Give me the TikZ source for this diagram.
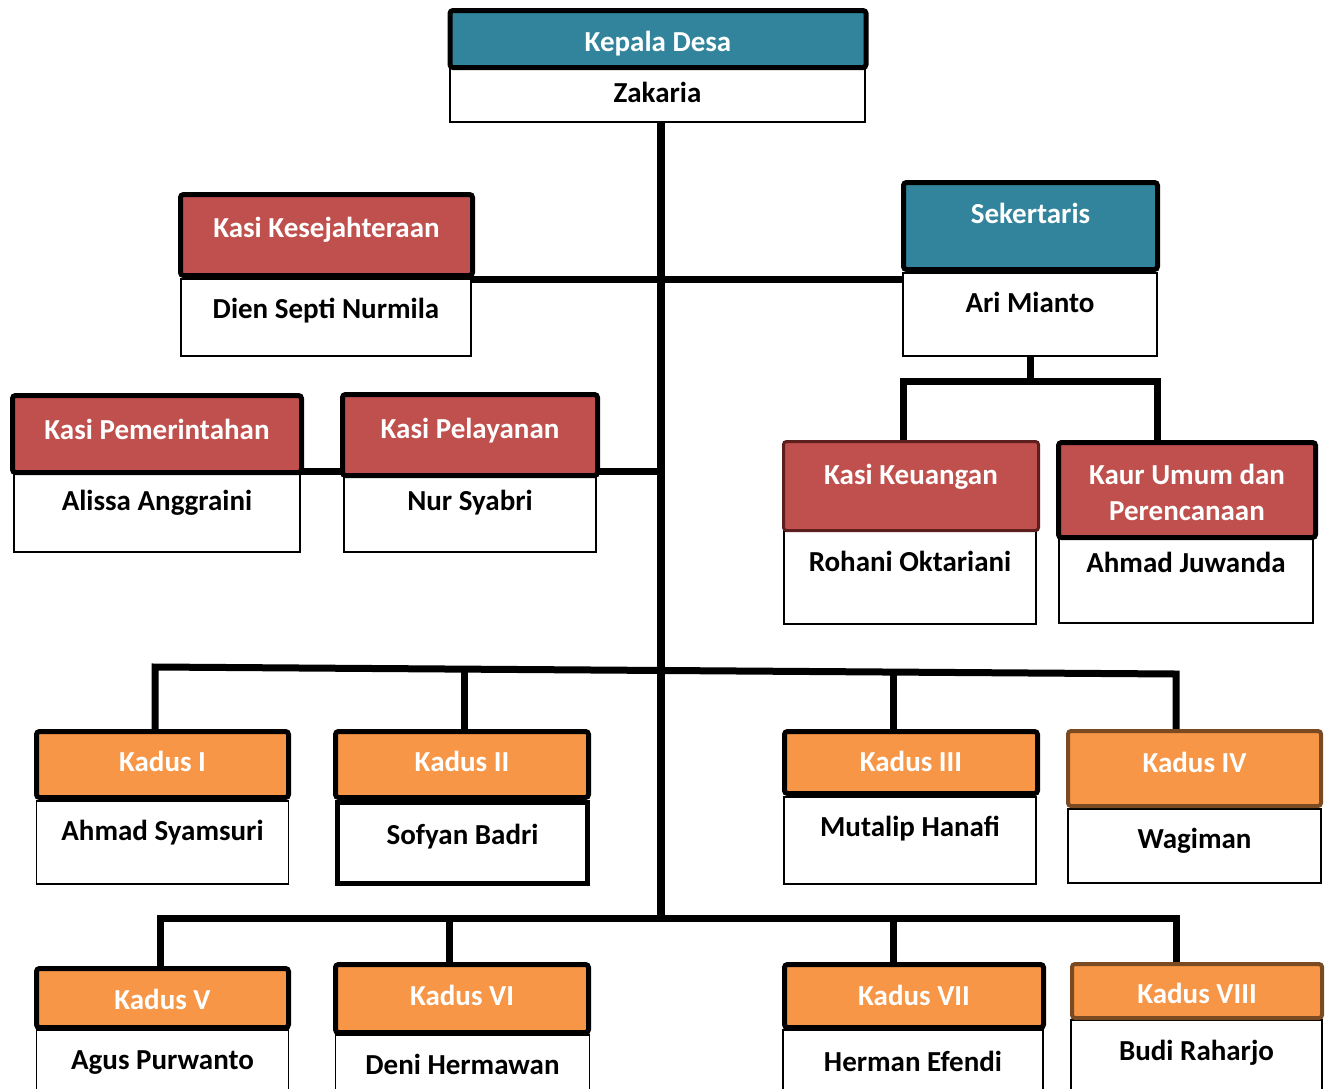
\documentclass[tikz,border=0pt]{standalone}
\usepackage{fontspec}
\setmainfont{Carlito}
\usetikzlibrary{backgrounds}
\definecolor{desa-teal}{HTML}{31849B}
\definecolor{kasi-red}{HTML}{C0504D}
\definecolor{kadus-orange}{HTML}{F79646}
\definecolor{kadus-brown}{HTML}{7A4A23}
\definecolor{keu-darkred}{HTML}{5C1F1D}

\begin{document}
\begin{tikzpicture}[
    x=1pt, y=-1pt,
    txt/.style={font=\fontsize{29}{36}\selectfont\bfseries, inner sep=0pt, outer sep=0pt, text height=24pt, text depth=6pt, align=center},
    head/.style={txt, rectangle, rounded corners=3pt, draw=black, line width=5pt, text=white, minimum width=252pt, minimum height=66pt},
    person/.style={txt, rectangle, draw=black, line width=1.8pt, fill=white, text=black, minimum width=252pt, minimum height=83pt},
    wire/.style={draw=black, line width=7pt, line cap=rect}
]
    \useasboundingbox (0,0) rectangle (1325,1088);

    % names
    \node[person, minimum width=415pt, minimum height=57pt] (zakaria) at (657.5,93.5) {Zakaria};
    \node[person, minimum width=290pt, minimum height=77pt, text depth=23pt] (dien) at (326,317.5) {Dien Septi Nurmila};
    \node[person, minimum width=254pt, text depth=29pt] (ari) at (1030,314.5) {Ari Mianto};
    \node[person, minimum width=286pt, minimum height=81pt, text depth=27pt] (alissa) at (157,511.5) {Alissa Anggraini};
    \node[person, minimum height=81pt, text depth=27pt] (nur) at (470,511.5) {Nur Syabri};
    \node[person, minimum height=93pt, text depth=37pt] (rohani) at (910,577.5) {Rohani Oktariani};
    \node[person, minimum width=254pt, minimum height=90pt, text depth=36pt] (juwanda) at (1186,578) {Ahmad Juwanda};
    \node[person, text depth=29pt] (syamsuri) at (162.5,842.5) {Ahmad Syamsuri};
    \node[person, line width=5pt, minimum width=250pt, minimum height=81pt, text depth=22pt] (sofyan) at (462.5,843) {Sofyan Badri};
    \node[person, minimum height=87pt, text depth=33pt] (mutalip) at (910,840.5) {Mutalip Hanafi};
    \node[person, minimum width=253pt, minimum height=74pt, text depth=20pt] (wagiman) at (1194.5,846) {Wagiman};
    \node[person, minimum height=70pt, text depth=16pt] (agus) at (162.5,1065) {Agus Purwanto};
    \node[person, minimum width=254pt, minimum height=65pt, text depth=11pt] (deni) at (462.5,1067.5) {Deni Hermawan};
    \node[person, minimum width=260pt, minimum height=70pt, text depth=12pt] (herman) at (913,1065) {Herman Efendi};
    \node[person, minimum width=251pt, minimum height=80pt, text depth=24pt] (budi) at (1196.5,1060) {Budi Raharjo};

    % jabatan
    \node[head, fill=desa-teal, minimum width=416pt, minimum height=57pt, text depth=0pt] (kades) at (658,39) {Kepala Desa};
    \node[head, fill=kasi-red, minimum width=292pt, minimum height=81pt, text depth=20pt] (kesHd) at (326.5,235) {Kasi Kesejahteraan};
    \node[head, fill=desa-teal, minimum width=254pt, minimum height=87pt, text depth=30pt] (sekHd) at (1030.5,226) {Sekertaris};
    \node[head, fill=kasi-red, minimum width=289pt, minimum height=77pt, text depth=14pt] (pemHd) at (157,434) {Kasi Pemerintahan};
    \node[head, fill=kasi-red, minimum width=255pt, minimum height=81pt, text depth=18pt] (pelHd) at (470,435) {Kasi Pelayanan};
    \node[head, fill=kasi-red, draw=keu-darkred, line width=3pt, minimum width=255pt, minimum height=89pt, text depth=28pt] (keuHd) at (911,486) {Kasi Keuangan};
    \node[head, fill=kasi-red, minimum width=257pt, minimum height=95pt, text height=, text depth=] (kaurHd) at (1187,490) {\strut Kaur Umum dan\\Perencanaan};
    \node[head, fill=kadus-orange, text depth=11pt] (k1Hd) at (162.5,764.5) {Kadus I};
    \node[head, fill=kadus-orange, minimum width=253pt, text depth=11pt] (k2Hd) at (462,764.5) {Kadus II};
    \node[head, fill=kadus-orange, minimum width=253pt, minimum height=62pt, text depth=7pt] (k3Hd) at (911,762.5) {Kadus III};
    \node[head, fill=kadus-orange, draw=kadus-brown, line width=4pt, minimum width=253pt, minimum height=75pt, text depth=17pt] (k4Hd) at (1194.5,768.5) {Kadus IV};
    \node[head, fill=kadus-orange, minimum height=59pt, text depth=2pt] (k5Hd) at (162.5,998) {Kadus V};
    \node[head, fill=kadus-orange, minimum width=253pt, minimum height=68pt, text depth=11pt] (k6Hd) at (462,998.5) {Kadus VI};
    \node[head, fill=kadus-orange, minimum width=259pt, minimum height=63pt, text depth=6pt] (k7Hd) at (914,996) {Kadus VII};
    \node[head, fill=kadus-orange, draw=kadus-brown, line width=4pt, minimum width=250pt, minimum height=54pt, text depth=0pt] (k8Hd) at (1197,991) {Kadus VIII};

    \begin{pgfonlayer}{background}
    \coordinate (bot) at (661,918);
    \draw[wire, line width=8pt] (zakaria.south -| bot) -- (bot);
    \draw[wire] (dien.north east) -- (dien.north east -| ari.west);

    \coordinate (fork) at (1030,381);
    \draw[wire] (ari.south) -- (fork);
    \draw[wire] (ari.west |- keuHd.north) |- (fork) -| (ari.east |- kaurHd.north);

    \draw[wire] (alissa.north east) -- (nur.north west);
    \draw[wire] (nur.north east) -- (nur.north east -| bot);

    % kadus I - IV
    \coordinate (r1a) at (155,667);
    \coordinate (r1b) at (1176,674);
    \draw[wire] (r1a |- k1Hd.north) -- (r1a) -- (r1b) -- (r1b |- k4Hd.north);
    \path (r1a) -- (r1b) coordinate[pos=0.303] (r1c) coordinate[pos=0.723] (r1d);
    \draw[wire] (r1c) -- (r1c |- k2Hd.north);
    \draw[wire] (r1d) -- (r1d |- k3Hd.north);

    % kadus V - VIII
    \coordinate (r2a) at (160,918);
    \coordinate (r2b) at (1176,918);
    \coordinate (r2c) at (449,918);
    \coordinate (r2d) at (893,918);
    \draw[wire] (r2a |- k5Hd.north) -- (r2a) -- (r2b) -- (r2b |- k8Hd.north);
    \draw[wire] (r2c) -- (r2c |- k6Hd.north);
    \draw[wire] (r2d) -- (r2d |- k7Hd.north);
    \end{pgfonlayer}
\end{tikzpicture}
\end{document}
